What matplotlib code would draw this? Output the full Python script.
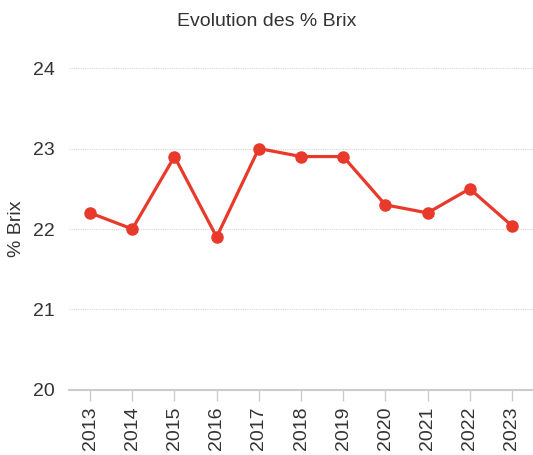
import matplotlib.pyplot as plt

plt.rcParams['font.family'] = ['Liberation Sans', 'DejaVu Sans']

# data
years = ['2013', '2014', '2015', '2016', '2017', '2018', '2019', '2020', '2021', '2022', '2023']
brix = [22.2, 22.0, 22.9, 21.9, 23.0, 22.9, 22.9, 22.3, 22.2, 22.5, 22.04]

fig = plt.figure(figsize=(5.33, 4.55), dpi=100)
ax = fig.add_axes([0.1295, 0.1429, 0.8705, 0.7076])

x = list(range(len(years)))
ax.plot(x, brix, color='#e8392a', linewidth=2.3, marker='o', markersize=8, zorder=3)

ax.set_xlim(-0.5, len(years) - 0.5)
ax.set_ylim(20, 24)
ax.set_yticks([20, 21, 22, 23, 24])
ax.set_xticks(x)
ax.set_xticklabels(years, rotation=90)

ax.grid(axis='y', color='#d6d6d6', linestyle=(0, (1, 1)), linewidth=0.8)
ax.set_axisbelow(True)

for s in ['top', 'right', 'left']:
    ax.spines[s].set_visible(False)
ax.spines['bottom'].set_color('#cccccc')
ax.spines['bottom'].set_linewidth(1.5)

ax.tick_params(axis='y', length=0, pad=10, labelsize=14, labelcolor='#333333')
ax.tick_params(axis='x', length=8, width=1, color='#cccccc', pad=4, labelsize=14, labelcolor='#333333')

ax.set_ylabel('% Brix', fontsize=14, color='#333333', labelpad=6)

# title centred on the whole figure
fig.text(0.5, 1 - 22 / 455, 'Evolution des % Brix', fontsize=14, color='#333333',
         ha='center', va='center')

fig.savefig('out.png', dpi=100)
